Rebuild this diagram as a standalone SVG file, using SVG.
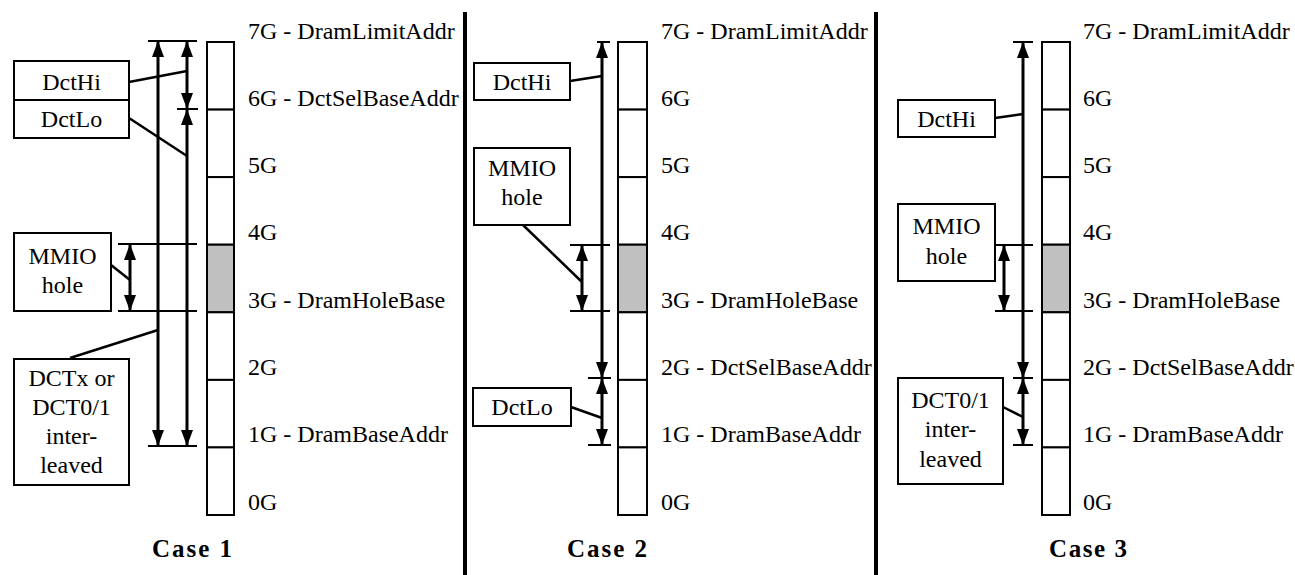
<svg xmlns="http://www.w3.org/2000/svg" width="1295" height="575" viewBox="0 0 1295 575">
<style>
  .t{font-family:"Liberation Serif","Times New Roman",serif;font-size:24px;fill:#000}
  .c{text-anchor:middle}
  .case{font-family:"Liberation Serif","Times New Roman",serif;font-size:25px;font-weight:bold;text-anchor:middle;fill:#000}
  .box{fill:#fff;stroke:#000;stroke-width:2}
  .seg{fill:#fff;stroke:#000;stroke-width:2}
  .hole{fill:#c0c0c0;stroke:#000;stroke-width:2}
  .tick{stroke:#000;stroke-width:2;fill:none}
  .arr{stroke:#000;stroke-width:3;fill:none;marker-start:url(#ah);marker-end:url(#ah)}
  .lead{stroke:#000;stroke-width:2.5;fill:none}
  .div{stroke:#000;stroke-width:4}
</style>
<defs>
  <marker id="ah" markerUnits="userSpaceOnUse" markerWidth="16" markerHeight="12" refX="16" refY="6" orient="auto-start-reverse">
    <path d="M0,0 L16,6 L0,12 z" fill="#000"/>
  </marker>
</defs>
<rect width="1295" height="575" fill="#fff"/>

<g id="dividers">
  <line class="div" x1="465" y1="12" x2="465" y2="575"/>
  <line class="div" x1="876" y1="12" x2="876" y2="575"/>
</g>

<!-- Case 1 -->
<g id="bar1">
  <rect class="seg" x="207" y="42" width="27" height="67.6"/>
  <rect class="seg" x="207" y="109.6" width="27" height="67.6"/>
  <rect class="seg" x="207" y="177.1" width="27" height="67.6"/>
  <rect class="hole" x="207" y="244.7" width="27" height="67.6"/>
  <rect class="seg" x="207" y="312.3" width="27" height="67.6"/>
  <rect class="seg" x="207" y="379.9" width="27" height="67.6"/>
  <rect class="seg" x="207" y="447.4" width="27" height="67.6"/>
</g>
<g id="labels1" class="t">
  <text x="248" y="39">7G - DramLimitAddr</text>
  <text x="248" y="106">6G - DctSelBaseAddr</text>
  <text x="248" y="173">5G</text>
  <text x="248" y="240">4G</text>
  <text x="248" y="308">3G - DramHoleBase</text>
  <text x="248" y="375">2G</text>
  <text x="248" y="442">1G - DramBaseAddr</text>
  <text x="248" y="510">0G</text>
</g>
<g id="dcthi1"><rect class="box" x="14" y="61" width="115" height="39"/><text class="t c" x="71.5" y="90">DctHi</text></g>
<g id="dctlo1"><rect class="box" x="14" y="100" width="115" height="38"/><text class="t c" x="71.5" y="127">DctLo</text></g>
<g id="mmio1"><rect class="box" x="14" y="233" width="97" height="78"/><text class="t c" x="62.5" y="264">MMIO</text><text class="t c" x="62.5" y="293">hole</text></g>
<g id="dctx1"><rect class="box" x="14" y="359" width="115" height="126"/>
  <text class="t c" x="71.5" y="386">DCTx or</text>
  <text class="t c" x="71.5" y="415">DCT0/1</text>
  <text class="t c" x="71.5" y="444">inter-</text>
  <text class="t c" x="71.5" y="473">leaved</text>
</g>

<!-- Case 2 -->
<g id="bar2">
  <rect class="seg" x="618" y="42" width="29" height="67.6"/>
  <rect class="seg" x="618" y="109.6" width="29" height="67.6"/>
  <rect class="seg" x="618" y="177.1" width="29" height="67.6"/>
  <rect class="hole" x="618" y="244.7" width="29" height="67.6"/>
  <rect class="seg" x="618" y="312.3" width="29" height="67.6"/>
  <rect class="seg" x="618" y="379.9" width="29" height="67.6"/>
  <rect class="seg" x="618" y="447.4" width="29" height="67.6"/>
</g>
<g id="labels2" class="t">
  <text x="661" y="39">7G - DramLimitAddr</text>
  <text x="661" y="106">6G</text>
  <text x="661" y="173">5G</text>
  <text x="661" y="240">4G</text>
  <text x="661" y="308">3G - DramHoleBase</text>
  <text x="661" y="375">2G - DctSelBaseAddr</text>
  <text x="661" y="442">1G - DramBaseAddr</text>
  <text x="661" y="510">0G</text>
</g>
<g id="dcthi2"><rect class="box" x="474" y="63" width="96" height="37"/><text class="t c" x="522" y="90">DctHi</text></g>
<g id="mmio2"><rect class="box" x="474" y="148" width="96" height="77"/><text class="t c" x="522" y="176">MMIO</text><text class="t c" x="522" y="205">hole</text></g>
<g id="dctlo2"><rect class="box" x="473" y="388" width="98" height="38"/><text class="t c" x="522" y="415">DctLo</text></g>

<!-- Case 3 -->
<g id="bar3">
  <rect class="seg" x="1042" y="42" width="28" height="67.6"/>
  <rect class="seg" x="1042" y="109.6" width="28" height="67.6"/>
  <rect class="seg" x="1042" y="177.1" width="28" height="67.6"/>
  <rect class="hole" x="1042" y="244.7" width="28" height="67.6"/>
  <rect class="seg" x="1042" y="312.3" width="28" height="67.6"/>
  <rect class="seg" x="1042" y="379.9" width="28" height="67.6"/>
  <rect class="seg" x="1042" y="447.4" width="28" height="67.6"/>
</g>
<g id="labels3" class="t">
  <text x="1083" y="39">7G - DramLimitAddr</text>
  <text x="1083" y="106">6G</text>
  <text x="1083" y="173">5G</text>
  <text x="1083" y="240">4G</text>
  <text x="1083" y="308">3G - DramHoleBase</text>
  <text x="1083" y="375">2G - DctSelBaseAddr</text>
  <text x="1083" y="442">1G - DramBaseAddr</text>
  <text x="1083" y="510">0G</text>
</g>
<g id="dcthi3"><rect class="box" x="898" y="100" width="97" height="37"/><text class="t c" x="946.5" y="127">DctHi</text></g>
<g id="mmio3"><rect class="box" x="898" y="204" width="97" height="77"/><text class="t c" x="946.5" y="234">MMIO</text><text class="t c" x="946.5" y="264">hole</text></g>
<g id="dct013"><rect class="box" x="898" y="378" width="105" height="106"/>
  <text class="t c" x="950.5" y="408">DCT0/1</text>
  <text class="t c" x="950.5" y="437">inter-</text>
  <text class="t c" x="950.5" y="467">leaved</text>
</g>

<g id="captions">
  <text class="case" x="192" y="557" textLength="80" lengthAdjust="spacing">Case 1</text>
  <text class="case" x="607" y="557" textLength="80" lengthAdjust="spacing">Case 2</text>
  <text class="case" x="1088" y="557" textLength="78" lengthAdjust="spacing">Case 3</text>
</g>

<g id="connectors">
  <!-- case 1 -->
  <line class="tick" x1="148" y1="41" x2="197" y2="41"/>
  <line class="tick" x1="177" y1="109" x2="198" y2="109"/>
  <line class="tick" x1="148" y1="446" x2="197" y2="446"/>
  <line class="tick" x1="118" y1="244" x2="197" y2="244"/>
  <line class="tick" x1="118" y1="311" x2="197" y2="311"/>
  <line class="arr" x1="158" y1="41" x2="158" y2="446"/>
  <line class="arr" x1="187" y1="41" x2="187" y2="109"/>
  <line class="arr" x1="187" y1="109" x2="187" y2="446"/>
  <line class="arr" x1="130" y1="244" x2="130" y2="311"/>
  <line class="lead" x1="129" y1="82" x2="187" y2="71"/>
  <line class="lead" x1="129" y1="118" x2="187" y2="156"/>
  <line class="lead" x1="111" y1="265" x2="130" y2="280"/>
  <line class="lead" x1="70" y1="358" x2="158" y2="330" stroke-width="3.5"/>
  <!-- case 2 -->
  <line class="tick" x1="597" y1="42" x2="610" y2="42"/>
  <line class="tick" x1="588" y1="378" x2="611" y2="378"/>
  <line class="tick" x1="588" y1="445" x2="611" y2="445"/>
  <line class="tick" x1="570" y1="245" x2="610" y2="245"/>
  <line class="tick" x1="570" y1="311" x2="610" y2="311"/>
  <line class="arr" x1="602" y1="42" x2="602" y2="378"/>
  <line class="arr" x1="602" y1="378" x2="602" y2="445"/>
  <line class="arr" x1="582" y1="245" x2="582" y2="311"/>
  <line class="lead" x1="570" y1="81" x2="602" y2="76"/>
  <line class="lead" x1="523" y1="225" x2="582" y2="282"/>
  <line class="lead" x1="571" y1="407" x2="602" y2="418"/>
  <!-- case 3 -->
  <line class="tick" x1="1013" y1="42" x2="1033" y2="42"/>
  <line class="tick" x1="1013" y1="378" x2="1033" y2="378"/>
  <line class="tick" x1="1013" y1="445" x2="1033" y2="445"/>
  <line class="tick" x1="995" y1="245" x2="1033" y2="245"/>
  <line class="tick" x1="995" y1="311" x2="1033" y2="311"/>
  <line class="arr" x1="1023" y1="42" x2="1023" y2="378"/>
  <line class="arr" x1="1023" y1="378" x2="1023" y2="445"/>
  <line class="arr" x1="1004" y1="245" x2="1004" y2="311"/>
  <line class="lead" x1="995" y1="118" x2="1023" y2="114"/>
  <line class="lead" x1="1003" y1="407" x2="1023" y2="417"/>
</g>
</svg>
